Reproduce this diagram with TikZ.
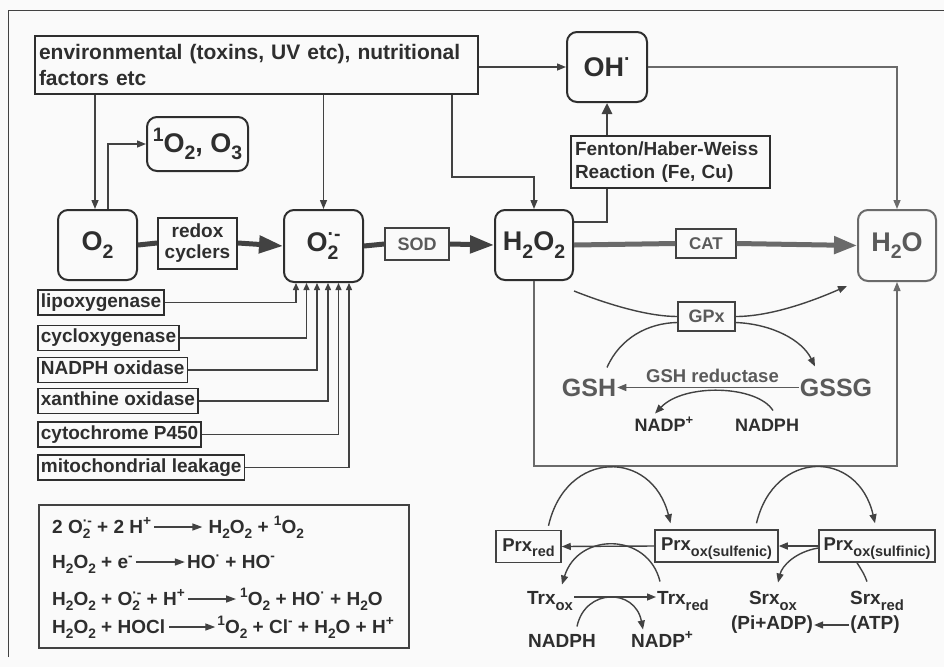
\documentclass[tikz,border=0pt]{standalone}
\usepackage{fontspec}
\setmainfont{Liberation Sans}
\usetikzlibrary{arrows.meta,calc}
\definecolor{ink}{HTML}{2E2E2E}
\definecolor{ln}{HTML}{424242}
\definecolor{soft}{HTML}{5A5A5A}
\definecolor{pale}{HTML}{6A6A6A}
\definecolor{bg}{HTML}{FAFAFA}
\newcommand\subs[1]{\raisebox{-0.28em}{\scalebox{0.72}{#1}}}
\newcommand\sups[1]{\raisebox{0.40em}{\scalebox{0.72}{#1}}}
\newcommand\psub[1]{\raisebox{-0.32em}{\scalebox{0.78}{#1}}}
\newlength\sswd
\newcommand\ssup[2]{\settowidth\sswd{\scalebox{0.72}{#2}}\makebox[\sswd][l]{\rlap{\raisebox{0.40em}{\scalebox{0.72}{#2}}}\raisebox{-0.28em}{\scalebox{0.72}{#1}}}}
\begin{document}
\begin{tikzpicture}[x=1pt,y=-1pt,
  spec/.style={draw=ink, line width=2pt, rounded corners=10pt, inner sep=2pt, text=ink, font=\fontsize{27}{30}\selectfont\bfseries},
  enz/.style={draw=ink, line width=1.8pt, anchor=west, inner xsep=3pt, inner ysep=0pt, minimum height=25pt, text height=14pt, text depth=4.5pt, text=ink, font=\fontsize{19}{22}\selectfont\bfseries},
  thinbox/.style={draw=ln, line width=1.3pt, inner sep=0pt, text=ink, font=\fontsize{18}{21}\selectfont\bfseries},
  conn/.style={draw=ln, line width=1.4pt, -{Triangle[length=9pt,width=7pt]}},
  smalltip/.style={draw=ln, line width=1.4pt, -{Triangle[length=7pt,width=6pt]}},
  plain/.style={draw=ln, line width=1.4pt},
  fat/.style={draw=ln, line width=5pt},
  fattip/.style={draw=ln, line width=5pt, -{Triangle[length=24pt,width=17pt]}},
  catline/.style={draw=pale, line width=5pt},
  lab/.style={inner sep=1pt, text=ink, font=\fontsize{19}{22}\selectfont\bfseries, text height=13.5pt, text depth=5pt},
  eq/.style={inner sep=0pt, text=ink, font=\fontsize{19}{22}\selectfont\bfseries, anchor=base west},
  eqarr/.style={draw=ln, line width=1.4pt, -{Triangle[length=10pt,width=7pt]}},
  prxbox/.style={draw=ln, line width=1.5pt, inner xsep=4pt, inner ysep=0pt, minimum height=32pt, text height=14pt, text depth=5pt, text=ink, font=\fontsize{18.5}{21}\selectfont\bfseries}
]
\useasboundingbox (0,0) rectangle (944,667);
\fill[bg] (0,0) rectangle (944,667);
\draw[ln, line width=1pt] (8,657) -- (8,10) -- (944,10);

% ---- top nodes
\node[draw=ink, line width=2.5pt, minimum width=443pt, minimum height=58pt, text width=435pt, align=left, inner sep=0pt, text=ink, font=\fontsize{21}{25.5}\selectfont\bfseries] (env) at (256.5,65) {environmental (toxins, UV etc), nutritional\\factors etc};
\node[spec, minimum width=80pt, minimum height=70pt] (oh) at (607,67) {OH\sups{·}};
\node[spec, minimum width=101pt, minimum height=54pt] (singlet) at (197.5,144) {\sups{1}O\subs{2}, O\subs{3}};
\node[draw=ink, line width=2.5pt, minimum width=199pt, minimum height=52pt, text width=191pt, align=left, inner sep=0pt, text=ink, font=\fontsize{19}{22.5}\selectfont\bfseries] (fenton) at (670.5,162) {Fenton/Haber-Weiss\\Reaction (Fe, Cu)};

% ---- main row
\node[spec, minimum width=79pt, minimum height=70pt] (o2) at (97.5,245) {O\subs{2}};
\node[draw=ink, line width=2pt, minimum width=79pt, minimum height=51pt, inner sep=0pt, align=center, text=ink, font=\fontsize{19}{21}\selectfont\bfseries] (redox) at (197.5,243) {redox\\cyclers};
\node[spec, minimum width=79pt, minimum height=72pt] (sup) at (323.5,246) {O\ssup{2}{·-}};
\node[thinbox, minimum width=64pt, minimum height=32pt, text=soft] (sod) at (417,244) {SOD};
\node[spec, minimum width=78pt, minimum height=70pt] (h2o2) at (534,245) {H\subs{2}O\subs{2}};
\node[thinbox, minimum width=60pt, minimum height=29pt, text=soft, font=\fontsize{17}{20}\selectfont\bfseries] (cat) at (706,243.5) {CAT};
\node[spec, draw=pale, text=soft, minimum width=78pt, minimum height=71pt] (h2o) at (897,245.5) {H\subs{2}O};

% ---- GPx / glutathione
\node[thinbox, minimum width=57pt, minimum height=29pt, text=soft] (gpx) at (706.5,316.5) {GPx};
\node[inner sep=1pt, text=soft, font=\fontsize{25}{28}\selectfont\bfseries] (gsh) at (589,387.5) {GSH};
\node[inner sep=1pt, text=soft, font=\fontsize{25}{28}\selectfont\bfseries] (gssg) at (836,387.5) {GSSG};
\node[inner sep=1pt, text=soft, font=\fontsize{18.5}{21}\selectfont\bfseries] (gshr) at (712.5,376) {GSH reductase};
\node[lab, font=\fontsize{18}{21}\selectfont\bfseries] (nadp1) at (664,427) {NADP\sups{+}};
\node[lab, font=\fontsize{18}{21}\selectfont\bfseries] (nadph1) at (767,427) {NADPH};

% ---- enzyme sources
\node[enz] (lipo) at (37,302.5) {lipoxygenase};
\node[enz] (cyclo) at (37,338) {cycloxygenase};
\node[enz] (nadphox) at (37,370) {NADPH oxidase};
\node[enz] (xanth) at (37,401) {xanthine oxidase};
\node[enz] (cyto) at (37,434.5) {cytochrome P450};
\node[enz] (mito) at (37,467.5) {mitochondrial leakage};

% ---- equations
\node[draw=ln, line width=2pt, minimum width=370pt, minimum height=143pt] (eqbox) at (224,576.5) {};
\node[eq] (l1) at (52,533) {2 O\ssup{2}{·-} + 2 H\sups{+}};
\node[eq] (r1) at ($(l1.base east)+(57,0)$) {H\subs{2}O\subs{2} + \sups{1}O\subs{2}};
\node[eq] (l2) at (52,568) {H\subs{2}O\subs{2} + e\sups{-}};
\node[eq] (r2) at ($(l2.base east)+(54,0)$) {HO\sups{·} + HO\sups{-}};
\node[eq] (l3) at (52,605) {H\subs{2}O\subs{2} + O\ssup{2}{·-} + H\sups{+}};
\node[eq] (r3) at ($(l3.base east)+(55,0)$) {\sups{1}O\subs{2} + HO\sups{·} + H\subs{2}O};
\node[eq] (l4) at (52,633) {H\subs{2}O\subs{2} + HOCl};
\node[eq] (r4) at ($(l4.base east)+(52,0)$) {\sups{1}O\subs{2} + Cl\sups{-} + H\subs{2}O + H\sups{+}};

% ---- peroxiredoxin cycle
\node[prxbox, minimum width=65pt] (prxred) at (528.5,546.5) {Prx\psub{red}};
\node[prxbox, minimum width=123pt] (sulfenic) at (716.5,546) {Prx\psub{ox(sulfenic)}};
\node[prxbox, minimum width=116pt] (sulfinic) at (877,546) {Prx\psub{ox(sulfinic)}};
\node[lab] (trxox) at (550,600) {Trx\psub{ox}};
\node[lab] (trxred) at (683,600) {Trx\psub{red}};
\node[lab] (nadph2) at (562,643) {NADPH};
\node[lab] (nadp2) at (662,643) {NADP\sups{+}};
\node[lab] (srxox) at (773,600) {Srx\psub{ox}};
\node[lab] (srxred) at (877,600) {Srx\psub{red}};
\node[lab] (piadp) at (772,625) {(Pi+ADP)};
\node[lab] (atp) at (875,625) {(ATP)};

% ---- helper coordinates
\coordinate (xa) at (95,0);
\coordinate (xb) at (108,0);
\coordinate (k1) at (452,177);
\coordinate (hf) at (607,222);
\coordinate (big) at (900,466);

% ---- connectors top
\draw[conn] (env.south -| xa) -- (o2.north -| xa);
\draw[conn] (o2.north -| xb) |- (singlet.west);
\draw[conn] (env.south -| sup.north) -- (sup.north);
\draw[conn] (env.south -| k1) -- (k1) -| (h2o2.north);
\draw[conn] (env.east |- oh.west) -- (oh.west);
\draw[conn, draw=pale] (oh.east) -| (h2o.north);
\draw[draw=ln, line width=2.5pt, -{Triangle[length=11pt,width=10pt]}] (fenton.north -| oh.south) -- (oh.south);
\draw[draw=ln, line width=2.5pt] (h2o2.east |- hf) -- (hf) -- (fenton.south -| hf);

% ---- main row
\draw[fat] (o2.east) -- (redox.west);
\draw[fattip] (redox.east) -- (sup.west);
\draw[fat] (sup.east) -- (sod.west);
\draw[fattip] (sod.east) -- (h2o2.west);
\draw[catline] (h2o2.east) -- (cat.west);
\draw[catline, -{Triangle[length=23pt,width=17pt]}] (cat.east) -- (h2o.west);

% ---- enzyme arrows
\draw[smalltip] (lipo.east) -| ($(sup.south west)+(13,0)$);
\draw[smalltip] (cyclo.east) -| ($(sup.south west)+(23.5,0)$);
\draw[smalltip] (nadphox.east) -| ($(sup.south west)+(34,0)$);
\draw[smalltip] (xanth.east) -| ($(sup.south west)+(45,0)$);
\draw[smalltip] (cyto.east) -| ($(sup.south west)+(55.5,0)$);
\draw[smalltip] (mito.east) -| ($(sup.south west)+(66,0)$);

% ---- GPx / glutathione
\draw[plain] ($(h2o2.south east)+(0,10)$) .. controls (612,306) and (650,316.5) .. (gpx.west);
\draw[conn] (gpx.east) .. controls (772,316.5) and (815,300) .. ($(h2o.south west)+(-10,4)$);
\draw[plain] ($(gsh.north)+(18,-10)$) .. controls (620,338) and (648,323) .. ($(gpx.west)+(0,6)$);
\draw[conn] ($(gpx.east)+(0,6)$) .. controls (772,324) and (802,340) .. ($(gssg.north)+(-21,-11)$);
\draw[conn, draw=soft] (gssg.west) -- (gsh.east);
\draw[conn] ($(nadph1.north)+(6,-6)$) .. controls (757,385) and (684,383) .. ($(nadp1.north)+(-9,-3)$);
\draw[conn, draw=pale, line width=1.2pt] (h2o2.south) |- (h2o.south |- big) -- (h2o.south);

% ---- equations arrows
\draw[eqarr] ($(l1.base east)+(3,-6)$) -- ($(r1.base west)+(-6,-6)$);
\draw[eqarr] ($(l2.base east)+(3,-6)$) -- ($(r2.base west)+(-2,-6)$);
\draw[eqarr] ($(l3.base east)+(3,-6)$) -- ($(r3.base west)+(-4,-6)$);
\draw[eqarr] ($(l4.base east)+(4,-6)$) -- ($(r4.base west)+(-2,-6)$);

% ---- peroxiredoxin connectors
\draw[conn] ($(prxred.north)+(20,-4)$) .. controls (566,449) and (652,449) .. ($(sulfenic.north)+(-46,-6)$);
\draw[conn] ($(sulfenic.north)+(40,-6)$) .. controls (774,449) and (858,449) .. ($(sulfinic.north)+(-2,-6)$);
\draw[conn] (sulfinic.west) -- (sulfenic.east);
\draw[conn] (sulfenic.west) -- (prxred.east);
\draw[conn] ($(trxred.north)+(-23,-8)$) .. controls (648,532) and (578,532) .. ($(trxox.north)+(12,-5)$);
\draw[conn] ($(trxox.east)+(0,-3)$) -- ($(trxred.west)+(0,-3)$);
\draw[conn] ($(nadph2.north)+(15,-6)$) .. controls (585,588) and (635,588) .. ($(nadp2.north)+(-19,-3)$);
\draw[conn] ($(sulfinic.west)+(0,2)$) .. controls (795,552) and (782,566) .. ($(srxox.north)+(5,-7)$);
\draw[plain] ($(srxred.north)+(-10,-8)$) .. controls (864,574) .. ($(sulfinic.south)+(-20,0)$);
\draw[conn] (atp.west) -- (piadp.east);
\end{tikzpicture}
\end{document}
